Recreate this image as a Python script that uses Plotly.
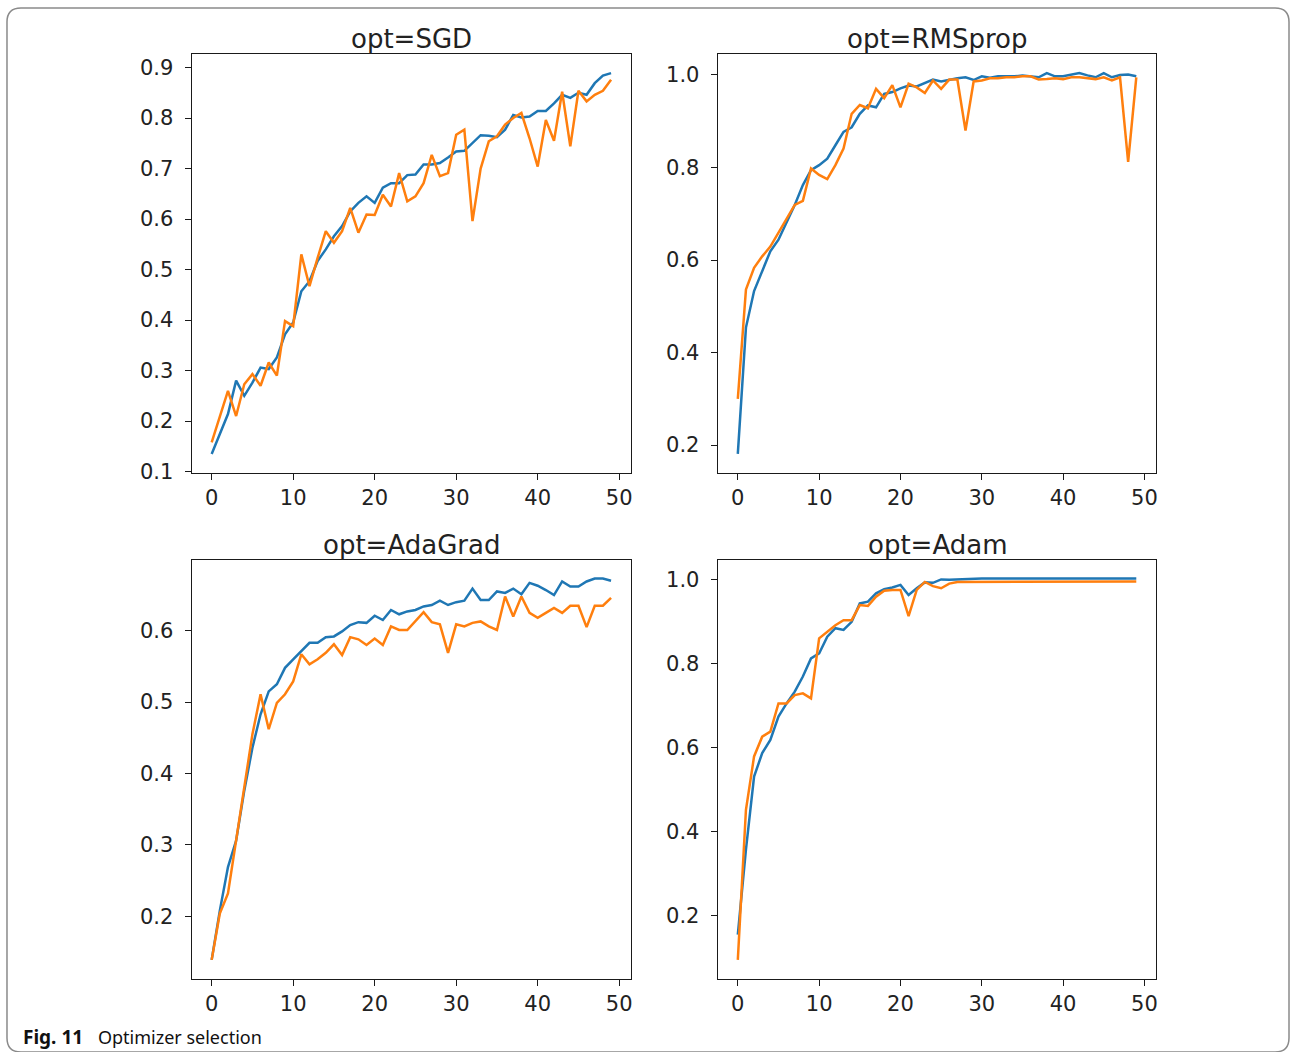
import plotly.graph_objects as go

# Design coordinates are in reference pixels (1292 x 1052); the figure is made
# slightly taller because the page is photographed with a small vertical compression.
W, H_REF = 1292, 1052
H = 1064

epochs = list(range(50))

sgd_train = [0.135, 0.174, 0.214, 0.280, 0.250, 0.276, 0.306, 0.303, 0.326, 0.372,
             0.395, 0.457, 0.477, 0.517, 0.540, 0.566, 0.586, 0.615, 0.632, 0.645,
             0.632, 0.662, 0.671, 0.671, 0.687, 0.688, 0.708, 0.708, 0.711, 0.722,
             0.734, 0.735, 0.750, 0.766, 0.765, 0.762, 0.777, 0.806, 0.801, 0.803,
             0.814, 0.814, 0.829, 0.846, 0.840, 0.850, 0.846, 0.869, 0.884, 0.889]
sgd_val = [0.158, 0.207, 0.260, 0.210, 0.273, 0.293, 0.270, 0.316, 0.290, 0.398,
           0.388, 0.530, 0.467, 0.523, 0.576, 0.553, 0.576, 0.622, 0.573, 0.609,
           0.608, 0.648, 0.625, 0.691, 0.635, 0.645, 0.671, 0.727, 0.685, 0.691,
           0.767, 0.777, 0.596, 0.700, 0.754, 0.764, 0.787, 0.800, 0.810, 0.760,
           0.704, 0.796, 0.755, 0.852, 0.744, 0.854, 0.833, 0.846, 0.854, 0.876]

rms_train = [0.181, 0.454, 0.533, 0.576, 0.619, 0.644, 0.683, 0.719, 0.762, 0.794,
             0.805, 0.819, 0.848, 0.877, 0.887, 0.916, 0.934, 0.930, 0.959, 0.963,
             0.971, 0.977, 0.975, 0.983, 0.990, 0.986, 0.990, 0.993, 0.995, 0.989,
             0.997, 0.994, 0.997, 0.997, 0.997, 0.999, 0.997, 0.995, 1.004, 0.997,
             0.997, 1.000, 1.004, 0.999, 0.995, 1.004, 0.995, 1.000, 1.001, 0.997]
rms_val = [0.300, 0.536, 0.583, 0.608, 0.629, 0.658, 0.690, 0.719, 0.728, 0.798,
           0.784, 0.775, 0.805, 0.841, 0.916, 0.935, 0.928, 0.970, 0.950, 0.978,
           0.930, 0.981, 0.973, 0.961, 0.988, 0.970, 0.990, 0.990, 0.880, 0.986,
           0.988, 0.993, 0.993, 0.995, 0.995, 0.997, 0.997, 0.990, 0.991, 0.993,
           0.991, 0.995, 0.995, 0.993, 0.991, 0.995, 0.988, 0.995, 0.812, 0.995]

ada_train = [0.139, 0.208, 0.269, 0.306, 0.376, 0.436, 0.483, 0.515, 0.525, 0.548,
             0.560, 0.571, 0.583, 0.583, 0.591, 0.592, 0.599, 0.608, 0.612, 0.611,
             0.621, 0.615, 0.629, 0.623, 0.627, 0.629, 0.634, 0.636, 0.642, 0.636,
             0.640, 0.642, 0.659, 0.643, 0.643, 0.655, 0.653, 0.659, 0.651, 0.667,
             0.663, 0.657, 0.650, 0.669, 0.662, 0.662, 0.669, 0.673, 0.673, 0.670]
ada_val = [0.139, 0.204, 0.232, 0.306, 0.385, 0.455, 0.511, 0.462, 0.499, 0.511,
           0.529, 0.567, 0.553, 0.560, 0.569, 0.581, 0.566, 0.591, 0.588, 0.580,
           0.589, 0.580, 0.606, 0.601, 0.601, 0.614, 0.626, 0.612, 0.609, 0.569,
           0.609, 0.606, 0.611, 0.613, 0.606, 0.601, 0.648, 0.620, 0.648, 0.625,
           0.618, 0.625, 0.632, 0.625, 0.635, 0.635, 0.605, 0.635, 0.635, 0.646]

adam_train = [0.155, 0.357, 0.531, 0.587, 0.618, 0.674, 0.705, 0.733, 0.769, 0.812,
              0.824, 0.864, 0.884, 0.880, 0.899, 0.943, 0.947, 0.967, 0.977, 0.981,
              0.987, 0.963, 0.979, 0.993, 0.992, 1.000, 0.999, 1.000, 1.001, 1.002,
              1.002, 1.002, 1.002, 1.002, 1.002, 1.002, 1.002, 1.002, 1.002, 1.002,
              1.002, 1.002, 1.002, 1.002, 1.002, 1.002, 1.002, 1.002, 1.002, 1.002]
adam_val = [0.095, 0.452, 0.579, 0.626, 0.638, 0.705, 0.705, 0.725, 0.729, 0.717,
            0.860, 0.876, 0.891, 0.903, 0.903, 0.939, 0.937, 0.959, 0.973, 0.975,
            0.975, 0.913, 0.975, 0.994, 0.984, 0.979, 0.990, 0.994, 0.994, 0.995,
            0.995, 0.995, 0.995, 0.995, 0.995, 0.995, 0.995, 0.995, 0.995, 0.995,
            0.995, 0.995, 0.995, 0.995, 0.995, 0.995, 0.995, 0.995, 0.995, 0.995]

titles = ["opt=SGD", "opt=RMSprop", "opt=AdaGrad", "opt=Adam"]
x_ticks = [0, 10, 20, 30, 40, 50]
y_ticks = [
    [0.1, 0.2, 0.3, 0.4, 0.5, 0.6, 0.7, 0.8, 0.9],
    [0.2, 0.4, 0.6, 0.8, 1.0],
    [0.2, 0.3, 0.4, 0.5, 0.6],
    [0.2, 0.4, 0.6, 0.8, 1.0],
]
series = [(sgd_train, sgd_val), (rms_train, rms_val),
          (ada_train, ada_val), (adam_train, adam_val)]

BLUE = "#1f77b4"
ORANGE = "#ff7f0e"

# panel boxes in reference pixels: (left, right, top, bottom)
boxes = [(192, 632, 54, 472.5), (719, 1158, 54, 472.5),
         (192, 632, 559, 978), (719, 1158, 559, 978)]


def px_x(p):
    return p / W


def px_y(p):
    return 1 - p / H_REF


fig = go.Figure()
annotations = []
for i, ((tr, va), box) in enumerate(zip(series, boxes)):
    n = i + 1
    xa = "x" if n == 1 else f"x{n}"
    ya = "y" if n == 1 else f"y{n}"
    fig.add_trace(go.Scatter(x=epochs, y=tr, mode="lines", line=dict(color=BLUE, width=2.5),
                             xaxis=xa, yaxis=ya, showlegend=False, hoverinfo="skip"))
    fig.add_trace(go.Scatter(x=epochs, y=va, mode="lines", line=dict(color=ORANGE, width=2.5),
                             xaxis=xa, yaxis=ya, showlegend=False, hoverinfo="skip"))
    lo = min(min(tr), min(va))
    hi = max(max(tr), max(va))
    pad = (hi - lo) * 0.05
    l, r, t, b = box
    common = dict(showline=True, mirror=True, linecolor="#1a1a1a", linewidth=1.4,
                  ticks="outside", ticklen=6, tickwidth=1.4, tickcolor="#1a1a1a",
                  showgrid=False, zeroline=False,
                  tickfont=dict(family="DejaVu Sans", size=21, color="#222222"))
    key_x = "xaxis" if n == 1 else f"xaxis{n}"
    key_y = "yaxis" if n == 1 else f"yaxis{n}"
    fig.update_layout({
        key_x: dict(domain=[px_x(l), px_x(r)], anchor=ya, range=[-2.45, 51.45],
                    tickmode="array", tickvals=x_ticks,
                    ticktext=[str(v) for v in x_ticks], ticklabelstandoff=0, **common),
        key_y: dict(domain=[px_y(b), px_y(t)], anchor=xa, range=[lo - pad, hi + pad],
                    tickmode="array", tickvals=y_ticks[i],
                    ticktext=[f"{v:.1f}" for v in y_ticks[i]], ticklabelstandoff=7, **common),
    })
    annotations.append(dict(text=titles[i], xref="paper", yref="paper",
                            x=px_x((l + r) / 2), y=px_y(t), xanchor="center", yanchor="bottom",
                            yshift=-2, showarrow=False,
                            font=dict(family="DejaVu Sans", size=26, color="#222222")))

annotations.append(dict(text="<b>Fig. 11</b>&nbsp;&nbsp;&nbsp;<span style='font-size:18px'>Optimizer selection</span>",
                        xref="paper", yref="paper",
                        x=px_x(21), y=px_y(1036), xanchor="left", yanchor="middle",
                        showarrow=False,
                        font=dict(family="Noto Sans", size=19, color="#111111")))

# rounded frame around the figure
L, R, T, B, rad = 7, 1291, 8, 1051, 14
path = (f"M {px_x(L + rad)} {px_y(T)} L {px_x(R - rad)} {px_y(T)} "
        f"Q {px_x(R)} {px_y(T)} {px_x(R)} {px_y(T + rad)} "
        f"L {px_x(R)} {px_y(B - rad)} Q {px_x(R)} {px_y(B)} {px_x(R - rad)} {px_y(B)} "
        f"L {px_x(L + rad)} {px_y(B)} Q {px_x(L)} {px_y(B)} {px_x(L)} {px_y(B - rad)} "
        f"L {px_x(L)} {px_y(T + rad)} Q {px_x(L)} {px_y(T)} {px_x(L + rad)} {px_y(T)} Z")

fig.update_layout(
    width=W, height=H,
    margin=dict(l=0, r=0, t=0, b=0),
    paper_bgcolor="white", plot_bgcolor="white",
    annotations=annotations,
    shapes=[dict(type="path", xref="paper", yref="paper", path=path,
                 line=dict(color="#8a8a8a", width=1.5), layer="below")],
)

fig.write_html("out.html", config={"displayModeBar": False},
               post_script="document.body.style.margin='0';document.body.style.overflow='hidden';")
